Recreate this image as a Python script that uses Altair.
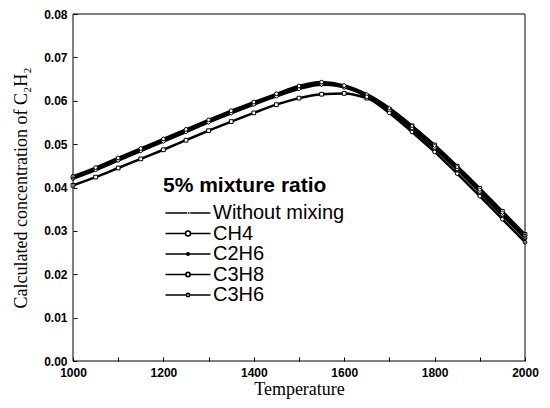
import altair as alt
import pandas as pd

temperature = [1000, 1050, 1100, 1150, 1200, 1250, 1300, 1350, 1400, 1450, 1500,
               1550, 1600, 1650, 1700, 1750, 1800, 1850, 1900, 1950, 2000]

series_names = ["Without mixing", "CH4", "C2H6", "C3H8", "C3H6"]

without_mixing = [0.0424, 0.0444, 0.0466, 0.0488, 0.0510, 0.0532, 0.0554, 0.0575, 0.0595, 0.0614, 0.0632,
                  0.0640, 0.0632, 0.0610, 0.0576, 0.0535, 0.0490, 0.0441, 0.0389, 0.0336, 0.0283]
ch4 = [0.0405, 0.0424, 0.0445, 0.0466, 0.0487, 0.0509, 0.0531, 0.0552, 0.0572, 0.0591, 0.0606,
       0.0615, 0.0617, 0.0606, 0.0580, 0.0542, 0.0498, 0.0449, 0.0398, 0.0345, 0.0292]
c2h6 = [0.0422, 0.0442, 0.0464, 0.0486, 0.0508, 0.0530, 0.0552, 0.0573, 0.0593, 0.0612, 0.0629,
        0.0638, 0.0631, 0.0611, 0.0578, 0.0537, 0.0492, 0.0443, 0.0391, 0.0338, 0.0285]
c3h8 = [0.0420, 0.0440, 0.0462, 0.0484, 0.0506, 0.0528, 0.0550, 0.0571, 0.0591, 0.0610, 0.0627,
        0.0637, 0.0634, 0.0615, 0.0583, 0.0542, 0.0496, 0.0447, 0.0395, 0.0342, 0.0289]
c3h6 = [0.0426, 0.0446, 0.0468, 0.0490, 0.0512, 0.0534, 0.0556, 0.0577, 0.0597, 0.0616, 0.0634,
        0.0643, 0.0635, 0.0609, 0.0572, 0.0528, 0.0482, 0.0432, 0.0380, 0.0327, 0.0274]

values_by_series = [without_mixing, ch4, c2h6, c3h8, c3h6]

x_domain = [1000, 2000]
y_domain = [0.0, 0.08]

rows = []
for name, vals in zip(series_names, values_by_series):
    for t, v in zip(temperature, vals):
        rows.append({"T": t, "C": v, "series": name})
df = pd.DataFrame(rows)

y_ticks = [i * 0.005 for i in range(17)]
x_ticks = list(range(1000, 2001, 100))

x_scale = alt.Scale(domain=x_domain, nice=False, zero=False)
y_scale = alt.Scale(domain=y_domain, nice=False, zero=False)

x_enc = alt.X("T:Q", scale=x_scale,
              axis=alt.Axis(title="Temperature", values=x_ticks,
                            labelExpr="datum.value % 200 == 0 ? datum.value : ''",
                            offset=-4, tickSize=4, labelPadding=6, domain=False, grid=False,
                            labelFlush=False,
                            labelFont="Liberation Sans", labelFontWeight="bold", labelFontSize=12,
                            titleFont="Liberation Serif", titleFontSize=18, titleFontWeight="normal",
                            titlePadding=2, labelColor="black", titleColor="black",
                            tickColor="black"))
y_enc = alt.Y("C:Q", scale=y_scale,
              axis=alt.Axis(title="Calculated concentration of C₂H₂", values=y_ticks,
                            labelExpr="abs(datum.value*100 - round(datum.value*100)) < 0.001 ? format(datum.value, '.2f') : ''",
                            offset=-4, tickSize=4, labelPadding=6, domain=False, grid=False,
                            labelFlush=False,
                            labelFont="Liberation Sans", labelFontWeight="bold", labelFontSize=12,
                            titleFont="Liberation Serif", titleFontSize=18, titleFontWeight="normal",
                            titlePadding=13, labelColor="black", titleColor="black",
                            tickColor="black"))

lines = alt.Chart(df).mark_line(color="black", strokeWidth=2.5, interpolate="monotone").encode(
    x=x_enc, y=y_enc, detail="series:N"
)

markers = alt.Chart(df).mark_point(filled=True, fill="white", stroke="black", strokeWidth=1, size=14, opacity=1).encode(
    x="T:Q", y="C:Q",
    shape=alt.Shape("series:N", scale=alt.Scale(domain=series_names,
                                                range=["circle", "square", "circle", "diamond", "circle"]),
                    legend=None)
)

legend_paths = [
    "M-1,0H1.9M2.0,0H2.2M2.3,0H5",
    "M-1,0H1.67M2.33,0H5M1.67,0A0.33,0.33 0 1,1 2.33,0A0.33,0.33 0 1,1 1.67,0Z",
    "M-1,0H5M1.83,0A0.17,0.17 0 1,1 2.17,0A0.17,0.17 0 1,1 1.83,0Z",
    "M-1,0H1.72M2.28,0H5M1.72,0A0.28,0.28 0 1,1 2.28,0A0.28,0.28 0 1,1 1.72,0Z",
    "M-1,0H1.78M2.22,0H5M1.78,0A0.22,0.22 0 1,1 2.22,0A0.22,0.22 0 1,1 1.78,0Z",
]

legend_layer = alt.Chart(df).transform_filter("false").mark_point(stroke="black").encode(
    x="T:Q", y="C:Q",
    shape=alt.Shape("series:N", scale=alt.Scale(domain=series_names, range=legend_paths),
                    legend=alt.Legend(title="5% mixture ratio", orient="none", legendX=90, legendY=161,
                                      symbolSize=225, symbolFillColor="white", symbolStrokeColor="black",
                                      symbolStrokeWidth=1.6, symbolOpacity=1,
                                      labelFont="Liberation Sans", labelFontSize=20, labelColor="black",
                                      titleFont="Liberation Sans", titleFontSize=21, titleFontWeight="bold",
                                      titleColor="black", titlePadding=7, rowPadding=0.5, labelOffset=30,
                                      titleAnchor="start"))
)

frame_df = pd.DataFrame({"x": [x_domain[0]], "x2": [x_domain[1]], "y": [y_domain[0]], "y2": [y_domain[1]]})
frame = alt.Chart(frame_df).mark_rect(fill="transparent", stroke="black", strokeWidth=1).encode(
    x=alt.X("x:Q", scale=x_scale), x2="x2:Q",
    y=alt.Y("y:Q", scale=y_scale), y2="y2:Q"
)

chart = alt.layer(lines, markers, legend_layer, frame).resolve_scale(shape="independent").properties(
    width=452, height=347,
    autosize=alt.AutoSizeParams(type="none"),
    padding={"left": 65, "top": 6, "right": 17, "bottom": 39},
).configure_view(strokeWidth=0)

chart.save("out.html", embed_options={"renderer": "svg", "actions": False})
